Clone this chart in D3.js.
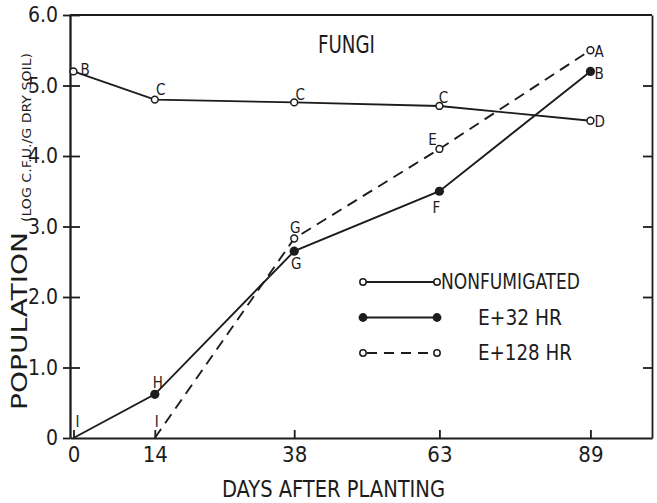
<!DOCTYPE html>
<html>
<head>
<meta charset="utf-8">
<script src="https://cdn.jsdelivr.net/npm/d3@7"></script>
<style>
  html, body { margin: 0; padding: 0; background: #fff; }
  svg { display: block; }
  text { font-family: "Liberation Sans Narrow", "DejaVu Sans Condensed", "Liberation Sans", sans-serif; fill: #1c1c1c; }
</style>
</head>
<body>
<svg id="chart" width="657" height="503"></svg>
<script>
// ---------- data ----------
const days = [0, 14, 38, 63, 89];
const nonfumigated = [5.2, 4.8, 4.76, 4.71, 4.5];
const e32 = [0, 0.62, 2.65, 3.5, 5.2];
const e128Days = [14, 38, 63, 89];
const e128 = [0, 2.83, 4.1, 5.5];
const nonfumLabels = ["B", "C", "C", "C", "D"];
const e32Labels = ["I", "H", "G", "F", "B"];
const e128Labels = ["I", "G", "E", "A"];
const yTicks = [0, 1, 2, 3, 4, 5, 6];
const xTicks = [0, 14, 38, 63, 89];
const legendNames = ["NONFUMIGATED", "E+32 HR", "E+128 HR"];

// label offsets (pixels, relative to the point)
const nonfumOff = [[7, -2, "start"], [6, -10, "middle"], [6, -8, "middle"], [4, -8, "middle"], [4, 1, "start"]];
const e32Off = [[4, -16, "middle"], [3, -12, "middle"], [2, 12, "middle"], [-3, 16, "middle"], [4, 2, "start"]];
const e128Off = [[2, -16, "middle"], [1, -11, "middle"], [-7, -9, "middle"], [4, 1, "start"]];

// ---------- layout ----------
const svg = d3.select("#chart");
const ink = "#1c1c1c";
const pLeft = 70, pRight = 652, pTop = 15, pBottom = 438;

const x = d3.scaleLinear().domain([-0.6, 99.6]).range([pLeft, pRight]);
const y = d3.scaleLinear().domain([0, 6]).range([pBottom, pTop]);

// frame: top line
svg.append("line").attr("x1", pLeft).attr("x2", pRight).attr("y1", pTop).attr("y2", pTop)
  .attr("stroke", ink).attr("stroke-width", 1.8);

// left axis (ticks outward + inward)
const yAxisL = d3.axisLeft(y).tickValues(yTicks).tickSizeInner(7).tickSizeOuter(0).tickPadding(5)
  .tickFormat(d => d === 0 ? "0" : d.toFixed(1));
const gl = svg.append("g").attr("transform", `translate(${pLeft},0)`).call(yAxisL);
gl.selectAll("text").style("font-size", "21px").attr("fill", ink);
const gl2 = svg.append("g").attr("transform", `translate(${pLeft},0)`)
  .call(d3.axisRight(y).tickValues(yTicks.filter(d => d > 0)).tickSizeInner(10).tickSizeOuter(0).tickFormat(""));
[gl, gl2].forEach(g => { g.selectAll("path,line").attr("stroke", ink).attr("stroke-width", 1.8); });

// right axis (inward ticks)
const gr = svg.append("g").attr("transform", `translate(${pRight},0)`)
  .call(d3.axisLeft(y).tickValues(yTicks.filter(d => d > 0 && d < 6)).tickSizeInner(9).tickSizeOuter(0).tickFormat(""));
gr.selectAll("path,line").attr("stroke", ink).attr("stroke-width", 1.8);

// bottom axis (inward ticks)
const gb = svg.append("g").attr("transform", `translate(0,${pBottom})`)
  .call(d3.axisBottom(x).tickValues(xTicks).tickSizeInner(-8).tickSizeOuter(0).tickPadding(8).tickFormat(d3.format("d")));
gb.selectAll("path,line").attr("stroke", ink).attr("stroke-width", 1.8);
gb.selectAll("text").style("font-size", "22px").attr("fill", ink);

// ---------- series ----------
const line = d3.line().x(d => x(d[0])).y(d => y(d[1]));
const s1 = days.map((d, i) => [d, nonfumigated[i]]);
const s2 = days.map((d, i) => [d, e32[i]]);
const s3 = e128Days.map((d, i) => [d, e128[i]]);

svg.append("path").datum(s1).attr("d", line).attr("fill", "none").attr("stroke", ink).attr("stroke-width", 1.9);
svg.append("path").datum(s2).attr("d", line).attr("fill", "none").attr("stroke", ink).attr("stroke-width", 1.9);
svg.append("path").datum(s3).attr("d", line).attr("fill", "none").attr("stroke", ink).attr("stroke-width", 1.9)
  .attr("stroke-dasharray", "11,7");

function openDots(data, skipZero) {
  svg.selectAll(null).data(data.filter(d => !(skipZero && d[1] === 0))).enter().append("circle")
    .attr("cx", d => x(d[0])).attr("cy", d => y(d[1])).attr("r", 3.4)
    .attr("fill", "#fff").attr("stroke", ink).attr("stroke-width", 1.5);
}
openDots(s1, false);
svg.selectAll(null).data(s2.filter(d => d[1] > 0)).enter().append("circle")
  .attr("cx", d => x(d[0])).attr("cy", d => y(d[1])).attr("r", 4.6).attr("fill", ink);
openDots(s3, true);

function pointLabels(data, labels, offs) {
  svg.selectAll(null).data(data).enter().append("text")
    .attr("x", (d, i) => x(d[0]) + offs[i][0])
    .attr("y", (d, i) => y(d[1]) + offs[i][1])
    .attr("dy", "0.36em")
    .attr("text-anchor", (d, i) => offs[i][2])
    .style("font-size", "15px")
    .text((d, i) => labels[i]);
}
pointLabels(s1, nonfumLabels, nonfumOff);
pointLabels(s2, e32Labels, e32Off);
pointLabels(s3, e128Labels, e128Off);

// ---------- titles ----------
svg.append("text").attr("x", 318).attr("y", 53).attr("textLength", 57).attr("lengthAdjust", "spacingAndGlyphs")
  .style("font-size", "24px").text("FUNGI");
svg.append("text").attr("x", 222).attr("y", 497).attr("textLength", 223).attr("lengthAdjust", "spacingAndGlyphs")
  .style("font-size", "23px").text("DAYS AFTER PLANTING");
svg.append("text").attr("transform", "translate(27,410) rotate(-90)")
  .attr("textLength", 178).attr("lengthAdjust", "spacingAndGlyphs")
  .style("font-size", "21px").text("POPULATION");
svg.append("text").attr("transform", "translate(31,222) rotate(-90)")
  .attr("textLength", 169).attr("lengthAdjust", "spacingAndGlyphs")
  .style("font-size", "13px").text("(LOG C.F.U./G DRY SOIL)");

// ---------- legend ----------
const legY = d3.scaleLinear().domain([0, 2]).range([282, 353]);
const lx1 = 363, lx2 = 437;
legendNames.forEach((name, i) => {
  const yy = legY(i);
  const ln = svg.append("line").attr("x1", lx1).attr("x2", lx2).attr("y1", yy).attr("y2", yy)
    .attr("stroke", ink).attr("stroke-width", 1.8);
  if (i === 2) ln.attr("stroke-dasharray", "10,7").attr("x1", lx1 + 4);
  [lx1, lx2].forEach(cx => {
    if (i === 1) {
      svg.append("circle").attr("cx", cx).attr("cy", yy).attr("r", 4.4).attr("fill", ink);
    } else {
      svg.append("circle").attr("cx", cx).attr("cy", yy).attr("r", 3.2)
        .attr("fill", "#fff").attr("stroke", ink).attr("stroke-width", 1.5);
    }
  });
  const tx = i === 0 ? 441 : 478;
  const tl = i === 0 ? 139 : (i === 1 ? 84 : 94);
  svg.append("text").attr("x", tx).attr("y", yy + 7)
    .attr("textLength", tl).attr("lengthAdjust", "spacingAndGlyphs")
    .style("font-size", "21px").text(name);
});
</script>
</body>
</html>
